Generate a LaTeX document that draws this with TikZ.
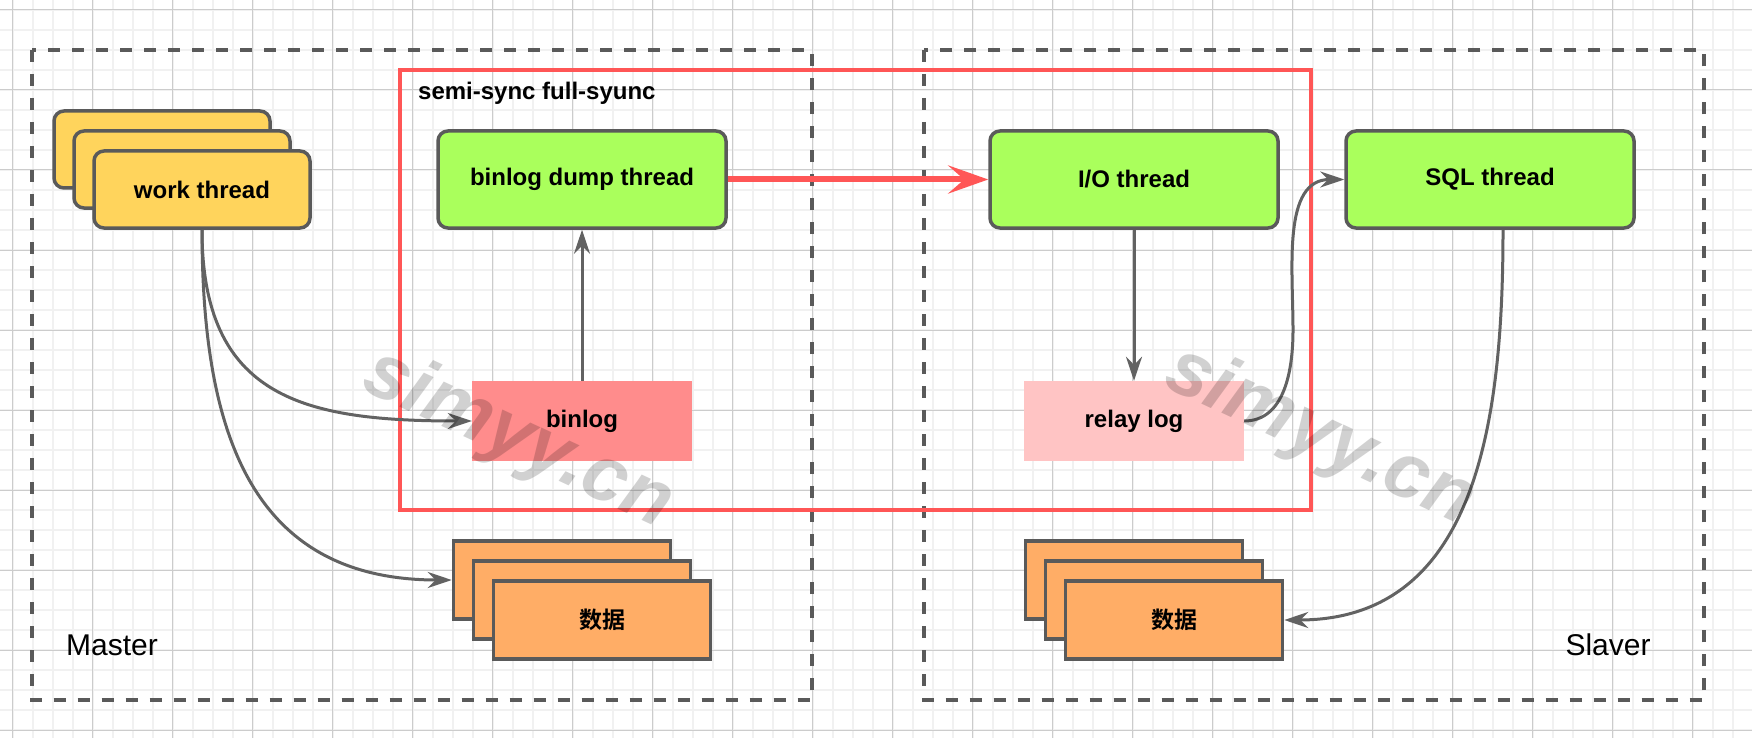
\documentclass[tikz,border=0pt]{standalone}
\usepackage{fontspec}
\setmainfont{Liberation Sans}
\newfontfamily\cjkfont{Noto Sans CJK SC}[BoldFont={Noto Sans CJK SC Bold}]
\usetikzlibrary{arrows.meta}

\definecolor{gridmajor}{HTML}{CCCCCC}
\definecolor{gridminor}{HTML}{F1F1F1}
\definecolor{boxline}{HTML}{5A5A5A}
\definecolor{flowgray}{HTML}{626262}
\definecolor{syncred}{HTML}{FF5656}
\definecolor{workfill}{HTML}{FFD45C}
\definecolor{threadfill}{HTML}{AAFF5C}
\definecolor{binlogfill}{HTML}{FF8C8C}
\definecolor{relayfill}{HTML}{FFC4C4}
\definecolor{datafill}{HTML}{FFAD66}

\newcommand{\lblfont}{\fontsize{24}{28}\selectfont\bfseries}
\newcommand{\sidefont}{\fontsize{30}{34}\selectfont}

\tikzset{
  thread/.style={draw=boxline, line width=3.5pt, rounded corners=10pt, fill=threadfill,
    minimum width=288pt, minimum height=97pt, font=\lblfont},
  worker/.style={thread, fill=workfill, minimum width=216pt, minimum height=77pt},
  logbox/.style={minimum width=220pt, minimum height=80pt, font=\lblfont},
  datacard/.style={draw=boxline, line width=3.5pt, fill=datafill, minimum width=217pt,
    minimum height=78pt, font=\cjkfont\fontsize{23}{27}\selectfont\bfseries},
  region/.style={draw=boxline, line width=4pt, dash pattern=on 12pt off 12pt},
  flow/.style={color=flowgray, line width=3pt, -{Stealth[length=24pt,width=16pt,inset=8pt]}},
  syncflow/.style={draw=syncred, line width=6pt, -{Stealth[length=40pt,width=28pt,inset=16pt]}},
  watermark/.style={black, opacity=0.18, rotate=-25, font=\fontsize{78}{78}\selectfont\bfseries\itshape}
}

\begin{document}
\begin{tikzpicture}[x=1pt, y=1pt]
	\fill[white] (0,0) rectangle (1752,-738);
	\useasboundingbox (0,0) rectangle (1752,-738);
	% canvas grid
	\begin{scope}[xshift=12.7pt, yshift=-10pt]
		\draw[gridminor, line width=2pt, step=20pt] (-20,20) grid (1760,-740);
		\draw[gridmajor, line width=1pt, step=80pt] (-20,20) grid (1760,-740);
	\end{scope}

	% master / slaver regions
	\draw[region] (31.6,-50) rectangle (811.7,-700);
	\draw[region] (923.6,-50) rectangle (1704,-700);
	\draw[syncred, line width=4pt] (400,-70) rectangle (1311,-510);

	\node[font=\lblfont, anchor=west, inner sep=0pt] (mode) at (418,-93) {semi-sync full-syunc};
	\node[font=\sidefont] (master) at (112,-645) {Master};
	\node[font=\sidefont] (slaver) at (1608,-645) {Slaver};

	% master side
	\node[worker] (wt-back) at (162,-149.5) {};
	\node[worker] (wt-mid) at (182,-169.5) {};
	\node[worker] (wt) at (202,-189.5) {work thread};
	\node[thread] (dump) at (582,-179.5) {binlog dump thread};
	\node[logbox, fill=binlogfill] (binlog) at (582,-421) {binlog};
	\node[datacard] (mdata-back) at (562,-580) {};
	\node[datacard] (mdata-mid) at (582,-600) {};
	\node[datacard] (mdata) at (602,-620) {数据};

	% slaver side
	\node[thread] (io) at (1134,-179.5) {I/O thread};
	\node[thread] (sql) at (1490,-179.5) {SQL thread};
	\node[logbox, fill=relayfill] (relay) at (1134,-421) {relay log};
	\node[datacard] (sdata-back) at (1134,-580) {};
	\node[datacard] (sdata-mid) at (1154,-600) {};
	\node[datacard] (sdata) at (1174,-620) {数据};
	\coordinate (bend) at (1293,-330);

	\path[flow]
	(binlog) edge (dump)
	(wt.south) edge[out=-90, in=180, looseness=1.3] (binlog.west)
	(wt.south) edge[out=-90, in=180, looseness=1.2] (mdata-back.west)
	(io) edge (relay)
	([xshift=13pt]sql.south) edge[out=-90, in=0, looseness=1.1] (sdata.east);
	\draw[flow] (relay.east) to[out=0, in=-90] (bend) to[out=90, in=180] (sql.west);
	\draw[syncflow] (dump) -- (io);

	\node[watermark] (wm-left) at (518,-440) {simyy.cn};
	\node[watermark] (wm-right) at (1320,-437) {simyy.cn};
\end{tikzpicture}
\end{document}
